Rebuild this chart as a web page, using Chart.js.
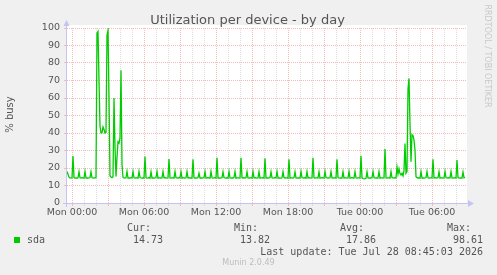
<!DOCTYPE html>
<html><head><meta charset="utf-8">
<script src="https://cdn.jsdelivr.net/npm/chart.js@4/dist/chart.umd.min.js"></script>
<style>html,body{margin:0;padding:0;background:#f0f0f0;overflow:hidden}canvas{display:block}</style>
</head><body>
<canvas id="c" width="497" height="275"></canvas>
<script>
// ---- data ----
const chartTitle = 'Utilization per device - by day';
const yAxisTitle = '% busy';
const seriesName = 'sda';
const startMinute = -25;      // first sample, minutes relative to Mon 00:00
const stepMinutes = 5;        // sample spacing
const busy = [
 18.0,16.4,14.8,14.3,14.2,14.4,
 26.9,14.5,14.2,14.3,14.1,14.4,
 17.9,14.4,14.2,14.5,14.3,14.2,
 18.0,14.3,14.4,14.2,14.3,14.5,
 17.8,14.4,14.3,14.2,14.4,14.5,
 97.0,98.0,70.0,44.0,40.0,40.2,
 43.5,42.0,40.0,40.3,96.0,98.61,
 60.0,15.5,14.8,14.5,15.0,60.0,
 32.0,15.2,26.0,35.0,34.2,37.0,
 75.8,22.0,14.6,14.3,14.2,14.4,
 18.0,14.3,14.4,14.2,14.5,14.3,
 17.9,14.4,14.2,14.3,14.4,14.2,
 18.0,14.5,14.3,14.2,14.4,14.3,
 26.5,14.4,14.2,14.3,14.5,14.2,
 17.8,14.3,14.4,14.2,14.3,14.5,
 18.0,14.2,14.3,14.4,14.2,14.3,
 17.9,14.4,14.5,14.3,14.2,14.4,
 25.1,14.3,14.2,14.4,14.3,14.2,
 18.0,14.4,14.3,14.2,14.5,14.3,
 17.8,14.2,14.4,14.3,14.2,14.4,
 17.9,14.3,14.5,14.2,14.4,14.3,
 25.0,14.4,14.2,14.3,14.2,14.5,
 17.0,14.3,14.4,14.2,14.3,14.4,
 17.9,14.2,14.3,14.5,14.4,14.2,
 18.0,14.4,14.2,14.3,14.5,14.3,
 25.9,14.3,14.4,14.2,14.3,14.4,
 17.8,14.5,14.3,14.2,14.4,14.2,
 18.0,14.3,14.2,14.4,14.3,14.5,
 17.9,14.2,14.4,14.3,14.2,14.3,
 25.9,14.4,14.3,14.5,14.2,14.4,
 17.8,14.3,14.2,14.4,14.3,14.2,
 18.0,14.4,14.5,14.3,14.2,14.3,
 17.9,14.2,14.3,14.4,14.5,14.2,
 25.5,14.3,14.4,14.2,14.3,14.4,
 17.8,14.4,14.2,14.3,14.5,14.3,
 18.0,14.3,14.4,14.2,14.2,14.4,
 17.9,14.5,14.3,14.4,14.3,14.2,
 25.0,14.2,14.4,14.3,14.2,14.5,
 17.8,14.3,14.2,14.4,14.3,14.3,
 18.0,14.4,14.3,14.2,14.5,14.2,
 17.9,14.3,14.5,14.3,14.2,14.4,
 25.9,14.4,14.2,14.3,14.4,14.3,
 17.8,14.2,14.3,14.5,14.3,14.2,
 18.0,14.4,14.3,14.2,14.4,14.5,
 17.9,14.3,14.2,14.4,14.3,14.2,
 25.0,14.5,14.3,14.2,14.4,14.3,
 17.8,14.3,14.4,14.3,14.2,14.4,
 18.0,14.2,14.3,14.5,14.3,14.2,
 17.9,14.4,14.2,14.3,14.4,14.3,
 27.0,14.3,14.0,13.82,13.9,14.1,
 17.8,14.3,14.2,14.4,14.3,14.5,
 18.0,14.4,14.3,14.2,14.4,14.3,
 17.9,14.2,14.4,14.3,14.2,14.4,
 30.9,14.3,14.2,14.4,14.3,14.2,
 17.9,14.4,14.3,14.2,14.5,14.3,
 20.5,16.5,19.5,16.8,16.0,17.0,
 15.5,18.5,34.0,17.0,18.0,65.0,
 71.2,45.0,23.6,39.0,38.5,36.0,
 30.0,15.0,14.5,14.3,14.4,14.2,
 17.9,14.3,14.4,14.2,14.3,14.5,
 18.0,14.4,14.2,14.3,14.4,14.3,
 25.0,14.3,14.5,14.2,14.3,14.4,
 17.8,14.2,14.3,14.4,14.2,14.3,
 18.0,14.4,14.3,14.2,14.5,14.3,
 17.9,14.3,14.2,14.4,14.3,14.2,
 24.5,14.4,14.3,14.2,14.4,14.3,
 17.7,14.4,14.73
];
const xTickMinutes = [0, 360, 720, 1080, 1440, 1800];
const xTickLabels = ['Mon 00:00','Mon 06:00','Mon 12:00','Mon 18:00','Tue 00:00','Tue 06:00'];
const yTickValues = [0,10,20,30,40,50,60,70,80,90,100];
const statNames = ['Cur:','Min:','Avg:','Max:'];
const statValues = ['14.73','13.82','17.86','98.61'];
const lastUpdate = 'Last update: Tue Jul 28 08:45:03 2026';
const footerText = 'Munin 2.0.49';
const watermark = 'RRDTOOL / TOBI OETIKER';

// ---- styling ----
const RED = '#f5b9b9';
const GREY = '#dedede';
const AXIS = '#c4c4f4';
const TXT = '#555555';
const GREEN = '#00cc00';

const points = busy.map((v, i) => ({ x: startMinute + i * stepMinutes, y: v }));

const bgPlugin = {
  id: 'bg',
  beforeDraw(chart) {
    const c = chart.ctx, a = chart.chartArea;
    c.save();
    c.fillStyle = '#f0f0f0';
    c.fillRect(0, 0, chart.width, chart.height);
    c.fillStyle = '#ffffff';
    c.fillRect(a.left, a.top - 3, a.right - a.left, a.bottom - a.top + 3);
    c.restore();
  }
};

const decoPlugin = {
  id: 'deco',
  afterDraw(chart) {
    const c = chart.ctx, a = chart.chartArea;
    c.save();
    // axes
    c.strokeStyle = AXIS; c.fillStyle = AXIS; c.lineWidth = 1;
    c.beginPath();
    c.moveTo(a.left - 4, a.bottom + 0.5); c.lineTo(a.right + 3, a.bottom + 0.5);
    c.moveTo(a.left - 0.5, a.bottom + 4); c.lineTo(a.left - 0.5, a.top - 4);
    c.stroke();
    c.beginPath();
    c.moveTo(a.right + 1, a.bottom - 3); c.lineTo(a.right + 7, a.bottom + 0.5); c.lineTo(a.right + 1, a.bottom + 4);
    c.closePath(); c.fill();
    c.beginPath();
    c.moveTo(a.left - 3.5, a.top - 2); c.lineTo(a.left - 0.5, a.top - 8); c.lineTo(a.left + 2.5, a.top - 2);
    c.closePath(); c.fill();

    // title
    c.fillStyle = TXT;
    c.font = '13px "DejaVu Sans"';
    c.textAlign = 'center'; c.textBaseline = 'alphabetic';
    c.fillText(chartTitle, 247.5, 24);

    // y axis title
    c.save();
    c.translate(10.5, 114.5); c.rotate(-Math.PI / 2);
    c.font = '10px "DejaVu Sans"'; c.textBaseline = 'middle'; c.textAlign = 'center';
    c.fillText(yAxisTitle, 0, 0);
    c.restore();

    // watermark
    c.save();
    c.translate(487.5, 56); c.rotate(Math.PI / 2);
    c.fillStyle = '#c8c8c8';
    c.font = '8px "DejaVu Sans"'; c.textBaseline = 'middle'; c.textAlign = 'center';
    c.fillText(watermark, 0, 0);
    c.restore();

    // legend
    c.fillStyle = GREEN;
    c.fillRect(14, 237, 6, 6);
    c.fillStyle = TXT;
    c.font = '10px "DejaVu Sans Mono"'; c.textBaseline = 'middle';
    c.textAlign = 'left';
    c.fillText(seriesName, 27, 240);
    const nameX = [127, 234, 340, 447];
    const valX = [163, 270, 376, 483];
    statNames.forEach((n, i) => { c.textAlign = 'left'; c.fillText(n, nameX[i], 228); });
    statValues.forEach((v, i) => { c.textAlign = 'right'; c.fillText(v, valX[i], 240); });
    c.textAlign = 'right';
    c.fillText(lastUpdate, 483, 252);

    // footer
    c.fillStyle = '#bdbdbd';
    c.font = '8px "DejaVu Sans"'; c.textAlign = 'center';
    c.fillText(footerText, 248.5, 263);
    c.restore();
  }
};

const gridColorX = ctx => (ctx.tick && ctx.tick.value % 180 === 0) ? RED : GREY;
const gridColorY = ctx => (ctx.tick && ctx.tick.value % 10 === 0) ? RED : GREY;

new Chart(document.getElementById('c').getContext('2d'), {
  type: 'line',
  data: { datasets: [{
    label: seriesName, data: points,
    borderColor: GREEN, borderWidth: 1.3, pointRadius: 0, tension: 0, fill: false
  }]},
  options: {
    responsive: false, animation: false, devicePixelRatio: 1,
    layout: { padding: { left: 0, top: 28, right: 30, bottom: 0 } },
    plugins: { legend: { display: false }, tooltip: { enabled: false }, title: { display: false } },
    scales: {
      x: {
        type: 'linear', min: startMinute, max: startMinute + 400 * stepMinutes,
        afterFit(s) { s.height = 72; },
        ticks: {
          stepSize: 60, includeBounds: false, autoSkip: false, maxRotation: 0, minRotation: 0,
          padding: 1, color: TXT, font: { family: 'DejaVu Sans', size: 9.5 },
          callback(v) { const k = xTickMinutes.indexOf(v); return k >= 0 ? xTickLabels[k] : ''; }
        },
        grid: { color: gridColorX, tickColor: gridColorX, lineWidth: 1, tickLength: 3, drawTicks: true },
        border: { display: false, dash: [1, 1] }
      },
      y: {
        min: 0, max: 100,
        afterFit(s) { s.width = 67; },
        ticks: {
          stepSize: 5, padding: 4, color: TXT, font: { family: 'DejaVu Sans', size: 9.5 },
          callback(v) { return yTickValues.includes(v) ? String(v) : ''; }
        },
        grid: { color: gridColorY, tickColor: gridColorY, lineWidth: 1, tickLength: 3, drawTicks: true },
        border: { display: false, dash: [1, 1] }
      }
    }
  },
  plugins: [bgPlugin, decoPlugin]
});
</script>
</body></html>
